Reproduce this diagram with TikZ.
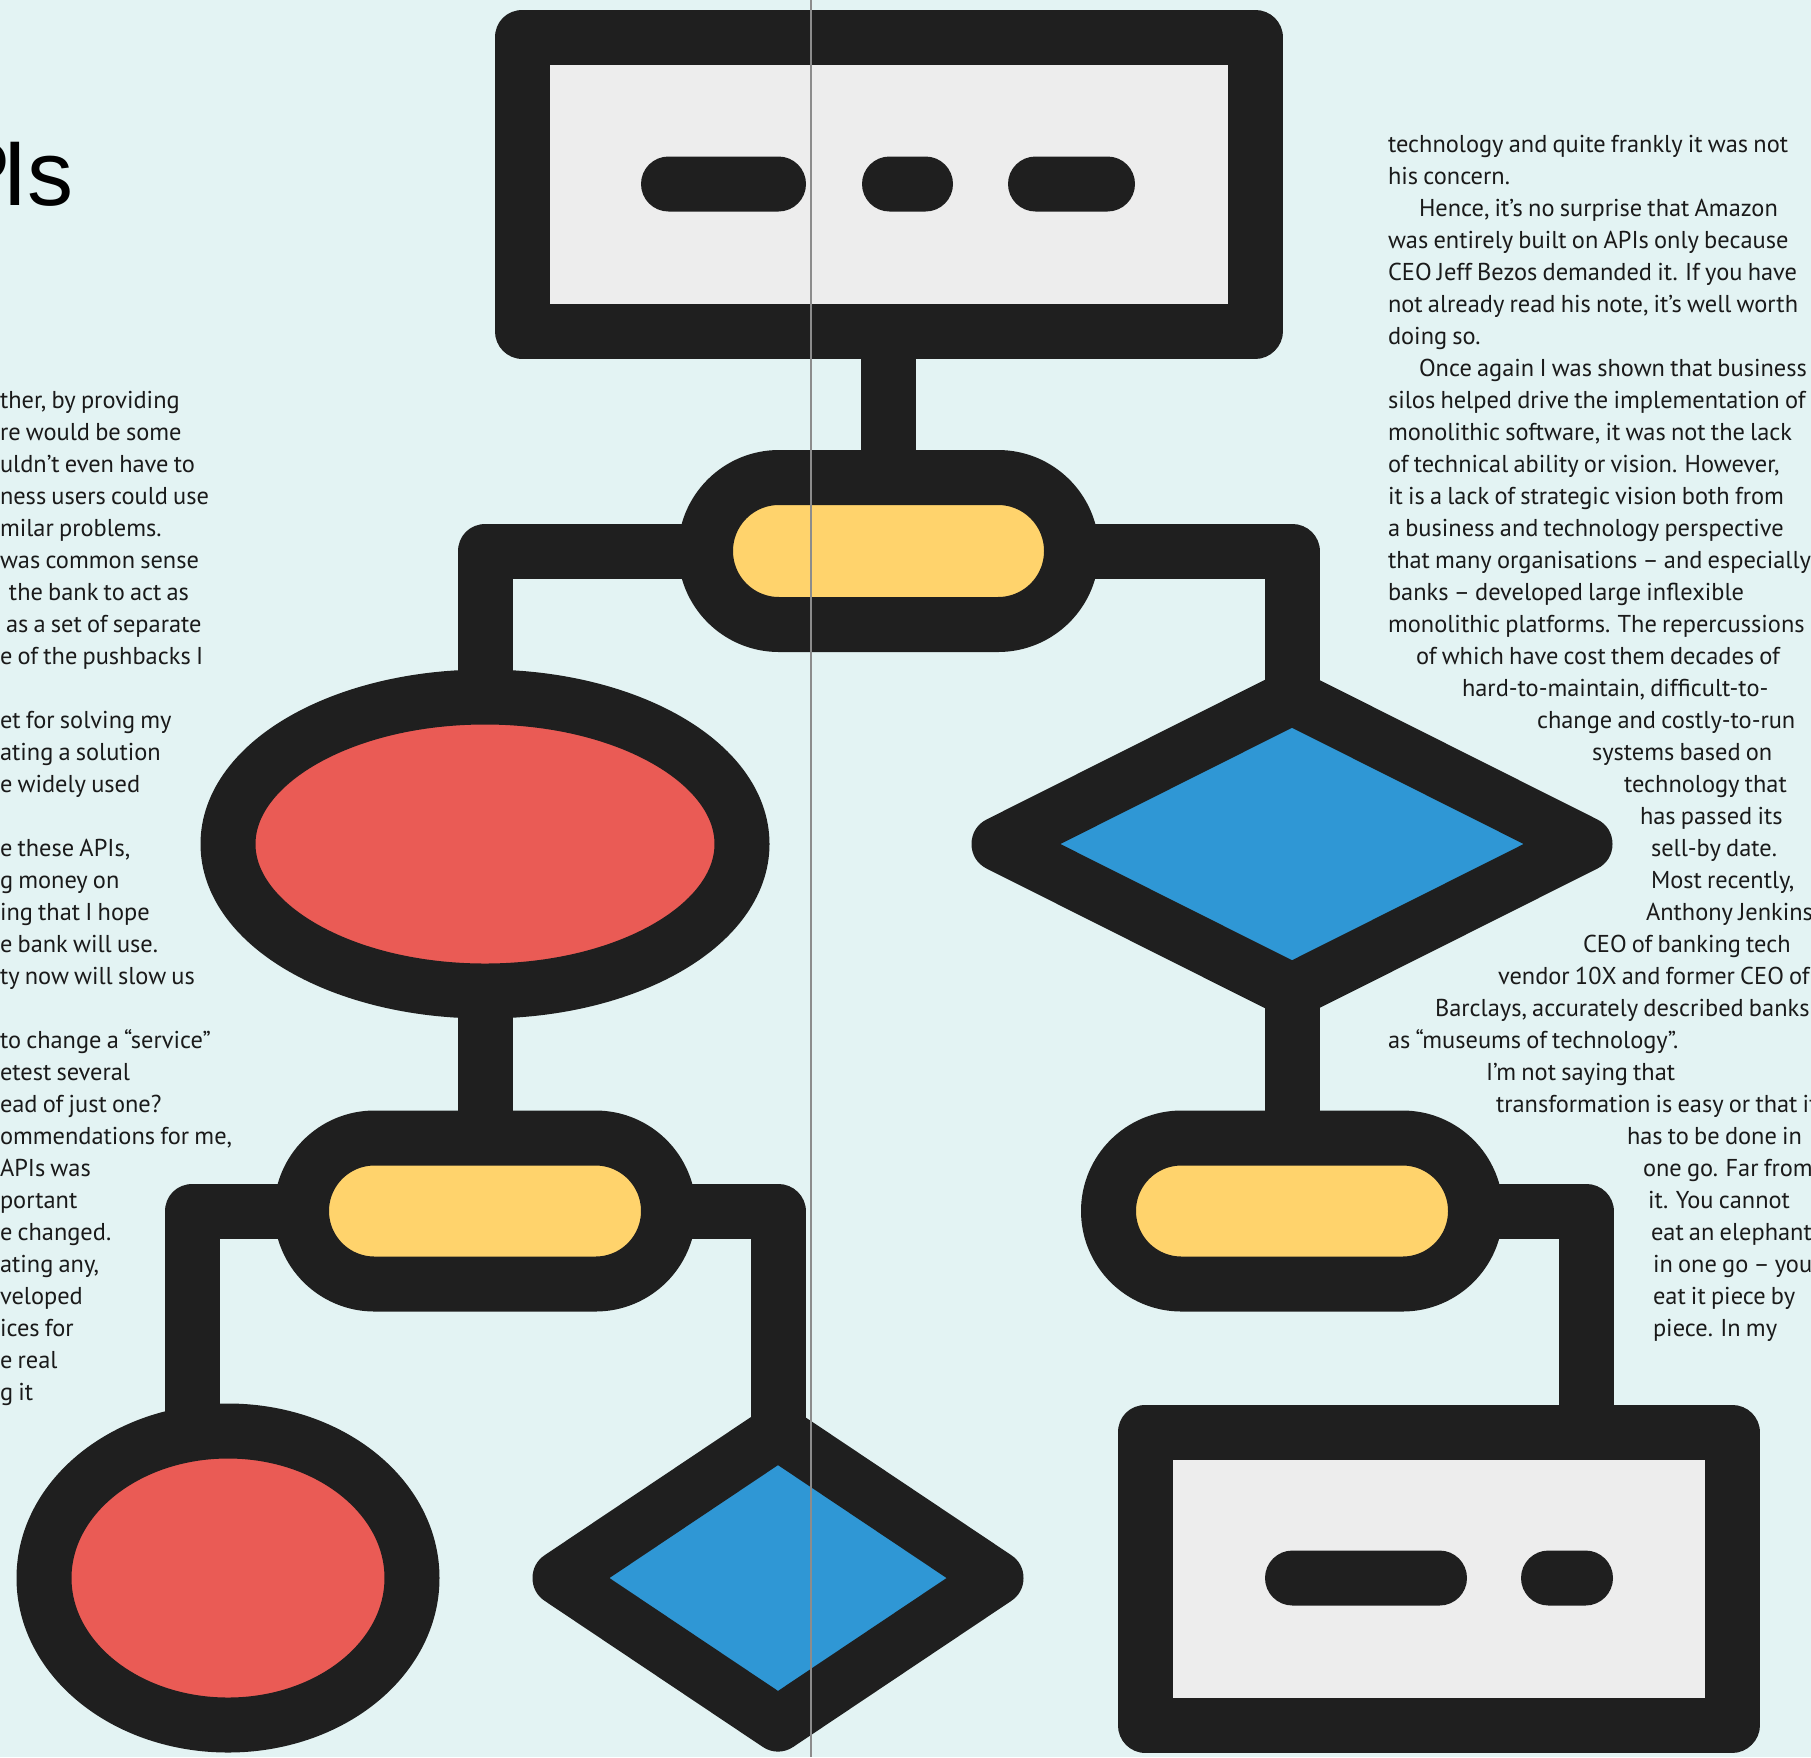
\documentclass[tikz,border=0pt]{standalone}
\usepackage{fontspec}
\setmainfont{PT Sans}[WordSpace=0.8]
\newfontfamily\titlefont{Liberation Sans}
\usetikzlibrary{shapes.geometric,shapes.misc}
\pgfdeclarelayer{bg}
\pgfdeclarelayer{conn}
\pgfsetlayers{bg,conn,main}
\definecolor{bgc}{HTML}{E3F3F3}
\definecolor{dk}{HTML}{1F1F1F}
\definecolor{lg}{HTML}{EDEDED}
\definecolor{yl}{HTML}{FFD36C}
\definecolor{rd}{HTML}{EA5B55}
\definecolor{bl}{HTML}{2F97D5}
\definecolor{tx}{HTML}{1A1A1A}
\definecolor{gut}{HTML}{8C8C8C}
\tikzset{
  shp/.style={draw=dk, line width=55pt, line join=round, inner sep=0pt, outer sep=0pt},
  boxn/.style={shp, rectangle, fill=lg},
  pilln/.style={shp, rounded rectangle, fill=yl},
  ovaln/.style={shp, ellipse, fill=rd},
  dian/.style={shp, diamond, fill=bl},
  dashn/.style={rounded rectangle, fill=dk, draw=none, minimum height=55pt, inner sep=0pt},
  conn/.style={draw=dk, line width=55pt, line join=round},
  txt/.style={anchor=base west, inner sep=0pt, outer sep=0pt, text=tx, font=\fontsize{24.4}{28}\selectfont},
  gutter/.style={draw=gut, line width=1.5pt}
}
\begin{document}
\begin{tikzpicture}[x=1pt,y=-1pt]
\useasboundingbox (0,0) rectangle (1811,1757);
\begin{pgfonlayer}{bg}
\fill[bgc] (0,0) rectangle (1811,1757);
\end{pgfonlayer}
\clip (0,0) rectangle (1811,1757);

% title fragment
\node[anchor=base east, inner sep=0pt, text=black, font=\titlefont\fontsize{92}{100}\selectfont] (title) at (74,205) {P\kern-9pt Is};

% shapes
\node[boxn, minimum width=733pt, minimum height=294pt] (top) at (888.5,184) {};
\node[dashn, minimum width=165pt] (da1) at (723.5,184) {};
\node[dashn, minimum width=91pt] (da2) at (907.5,184) {};
\node[dashn, minimum width=127pt] (da3) at (1071.5,184) {};

\node[pilln, minimum width=366pt, minimum height=147pt] (p1) at (888.5,551) {};
\node[ovaln, minimum width=514pt, minimum height=294pt] (e1) at (485,844) {};
\node[dian, minimum width=586pt, minimum height=294pt] (d1) at (1292,844) {};
\node[pilln, minimum width=367pt, minimum height=146pt] (p2) at (485,1211) {};
\node[pilln, minimum width=367pt, minimum height=146pt] (p3) at (1292,1211) {};
\node[ovaln, minimum width=368pt, minimum height=294pt] (e2) at (228,1578) {};
\node[dian, minimum width=436pt, minimum height=292pt] (d2) at (778,1578) {};
\node[boxn, minimum width=587pt, minimum height=293pt] (bot) at (1438.5,1578.5) {};
\node[dashn, minimum width=202pt] (db1) at (1366,1578) {};
\node[dashn, minimum width=92pt] (db2) at (1567,1578) {};

\coordinate (c2) at (192,1578);
\coordinate (c3) at (1586,1578);

\begin{pgfonlayer}{conn}
\draw[conn] (top.center) -- (p1.center);
\draw[conn] (p1.center) -| (e1.center);
\draw[conn] (p1.center) -| (d1.center);
\draw[conn] (e1.center) -- (p2.center);
\draw[conn] (d1.center) -- (p3.center);
\draw[conn] (p2.center) -| (c2);
\draw[conn] (p2.center) -| (d2.center);
\draw[conn] (p3.center) -| (c3);
\end{pgfonlayer}

% left column (cropped)
\node[txt] (l1) at (0,408.8) {ther, by providing};
\node[txt] (l2) at (0,440.8) {re would be some};
\node[txt] (l3) at (0,472.8) {uldn’t even have to};
\node[txt] (l4) at (0,504.8) {ness users could use};
\node[txt] (l5) at (0,536.8) {milar problems.};
\node[txt] (l6) at (0,568.8) {was common sense};
\node[txt] (l7) at (9,600.8) {the bank to act as};
\node[txt] (l8) at (6,632.8) {as a set of separate};
\node[txt] (l9) at (0,664.8) {e of the pushbacks I};
\node[txt] (l10) at (0,728.8) {et for solving my};
\node[txt] (l11) at (0,760.8) {ating a solution};
\node[txt] (l12) at (0,792.8) {e widely used};
\node[txt] (l13) at (0,856.8) {e these APIs,};
\node[txt] (l14) at (0,888.8) {g money on};
\node[txt] (l15) at (0,920.8) {ing that I hope};
\node[txt] (l16) at (0,952.8) {e bank will use.};
\node[txt] (l17) at (0,984.8) {ty now will slow us};
\node[txt] (l18) at (0,1048.8) {to change a “service”};
\node[txt] (l19) at (0,1080.8) {etest several};
\node[txt] (l20) at (0,1112.8) {ead of just one?};
\node[txt] (l21) at (0,1144.8) {ommendations for me,};
\node[txt] (l22) at (0,1176.8) {APIs was};
\node[txt] (l23) at (0,1208.8) {portant};
\node[txt] (l24) at (0,1240.8) {e changed.};
\node[txt] (l25) at (0,1272.8) {ating any,};
\node[txt] (l26) at (0,1304.8) {veloped};
\node[txt] (l27) at (0,1336.8) {ices for};
\node[txt] (l28) at (0,1368.8) {e real};
\node[txt] (l29) at (0,1400.8) {g it};

% right column
\node[txt] (r1) at (1388,152.5) {technology and quite frankly it was not};
\node[txt] (r2) at (1388,184.5) {his concern.};
\node[txt] (r3) at (1419,216.5) {Hence, it’s no surprise that Amazon};
\node[txt] (r4) at (1388,248.5) {was entirely built on APIs only because};
\node[txt] (r5) at (1388,280.5) {CEO Jeff Bezos demanded it. If you have};
\node[txt] (r6) at (1388,312.5) {not already read his note, it’s well worth};
\node[txt] (r7) at (1388,344.5) {doing so.};
\node[txt] (r8) at (1419,376.5) {Once again I was shown that business};
\node[txt] (r9) at (1388,408.5) {silos helped drive the implementation of};
\node[txt] (r10) at (1388,440.5) {monolithic software, it was not the lack};
\node[txt] (r11) at (1388,472.5) {of technical ability or vision. However,};
\node[txt] (r12) at (1388,504.5) {it is a lack of strategic vision both from};
\node[txt] (r13) at (1388,536.5) {a business and technology perspective};
\node[txt] (r14) at (1388,568.5) {that many organisations – and especially};
\node[txt] (r15) at (1388,600.5) {banks – developed large inflexible};
\node[txt] (r16) at (1388,632.5) {monolithic platforms. The repercussions};
\node[txt] (r17) at (1416,664.5) {of which have cost them decades of};
\node[txt] (r18) at (1462,696.5) {hard-to-maintain, difficult-to-};
\node[txt] (r19) at (1537,728.5) {change and costly-to-run};
\node[txt] (r20) at (1592,760.5) {systems based on};
\node[txt] (r21) at (1624,792.5) {technology that};
\node[txt] (r22) at (1640,824.5) {has passed its};
\node[txt] (r23) at (1651,856.5) {sell-by date.};
\node[txt] (r24) at (1651,888.5) {Most recently,};
\node[txt] (r25) at (1646,920.5) {Anthony Jenkins};
\node[txt] (r26) at (1583,952.5) {CEO of banking tech};
\node[txt] (r27) at (1498,984.5) {vendor 10X and former CEO of};
\node[txt] (r28) at (1435,1016.5) {Barclays, accurately described banks};
\node[txt] (r29) at (1388,1048.5) {as “museums of technology”.};
\node[txt] (r30) at (1486,1080.5) {I’m not saying that};
\node[txt] (r31) at (1496,1112.5) {transformation is easy or that it};
\node[txt] (r32) at (1627,1144.5) {has to be done in};
\node[txt] (r33) at (1643,1176.5) {one go. Far from};
\node[txt] (r34) at (1648,1208.5) {it. You cannot};
\node[txt] (r35) at (1651,1240.5) {eat an elephant};
\node[txt] (r36) at (1653,1272.5) {in one go – you};
\node[txt] (r37) at (1653,1304.5) {eat it piece by};
\node[txt] (r38) at (1653,1336.5) {piece. In my};

% page gutter
\draw[gutter] (811,0) -- (811,1757);
\end{tikzpicture}
\end{document}
